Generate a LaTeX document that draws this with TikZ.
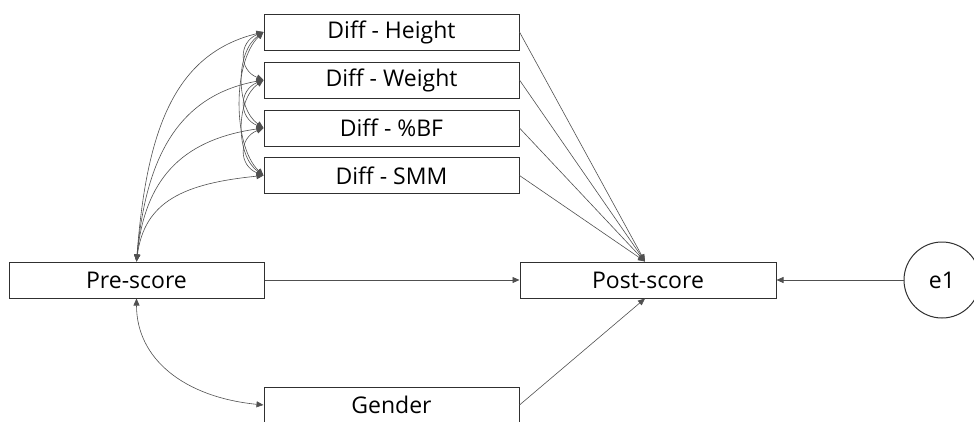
\documentclass[tikz,border=0pt]{standalone}
\usepackage{fontspec}
\setmainfont{Open Sans}
\usetikzlibrary{arrows.meta}
\definecolor{linec}{HTML}{505050}
\definecolor{boxc}{HTML}{303030}
\tikzset{
  var/.style={draw=boxc, line width=1pt, rectangle, minimum width=255pt, minimum height=36pt, inner sep=0pt, font=\fontsize{23}{27}\selectfont},
  err/.style={draw=boxc, line width=1pt, circle, minimum size=76pt, inner sep=0pt, font=\fontsize{23}{27}\selectfont},
  path1/.style={draw=linec, line width=0.6pt, -{Triangle[length=7pt,width=6pt]}},
  cov/.style={draw=linec, line width=0.6pt, {Triangle[length=7pt,width=6pt]}-{Triangle[length=7pt,width=6pt]}}
}
\begin{document}
\begin{tikzpicture}[x=1pt,y=-1pt]
\clip (0,0) rectangle (974,421);
\node[var] (d1) at (391.5,32) {Diff - Height};
\node[var] (d2) at (391.5,80) {Diff - Weight};
\node[var] (d3) at (391.5,128) {Diff - \%BF};
\node[var] (d4) at (391.5,175.5) {Diff - SMM};
\node[var] (pre) at (136.5,280) {Pre-score};
\node[var, minimum width=256pt] (post) at (648,280) {Post-score};
\node[var] (gen) at (391.5,405) {Gender};
\node[err] (e1) at (942,280) {e1};
\coordinate (postT) at ([xshift=-3pt]post.north);
\coordinate (postB) at ([xshift=-3pt]post.south);
% covariances pre - diffs
\draw[cov] (pre.north) .. controls +(10,-130) and +(-90,22) .. (d1.west);
\draw[cov] (pre.north) .. controls +(9,-100) and +(-88,16) .. (d2.west);
\draw[cov] (pre.north) .. controls +(8,-80) and +(-84,12) .. (d3.west);
\draw[cov] (pre.north) .. controls +(8,-60) and +(-80,8) .. (d4.west);
% covariances among diffs
\draw[cov] (d1.west) .. controls +(-25,10) and +(-25,-10) .. (d2.west);
\draw[cov] (d2.west) .. controls +(-25,10) and +(-25,-10) .. (d3.west);
\draw[cov] (d3.west) .. controls +(-25,10) and +(-25,-10) .. (d4.west);
\draw[cov] (d1.west) .. controls +(-28,20) and +(-28,-20) .. (d3.west);
\draw[cov] (d2.west) .. controls +(-28,20) and +(-28,-20) .. (d4.west);
\draw[cov] (d1.west) .. controls +(-31,30) and +(-31,-30) .. (d4.west);
% covariance pre - gender
\draw[cov] (pre.south) .. controls +(0,60) and +(-80,-8) .. (gen.west);
% paths
\draw[path1] (d1.east) -- (postT);
\draw[path1] (d2.east) -- (postT);
\draw[path1] (d3.east) -- (postT);
\draw[path1] (d4.east) -- (postT);
\draw[path1] (pre.east) -- (post.west);
\draw[path1] (gen.east) -- (postB);
\draw[path1] (e1.west) -- (post.east);
\end{tikzpicture}
\end{document}
